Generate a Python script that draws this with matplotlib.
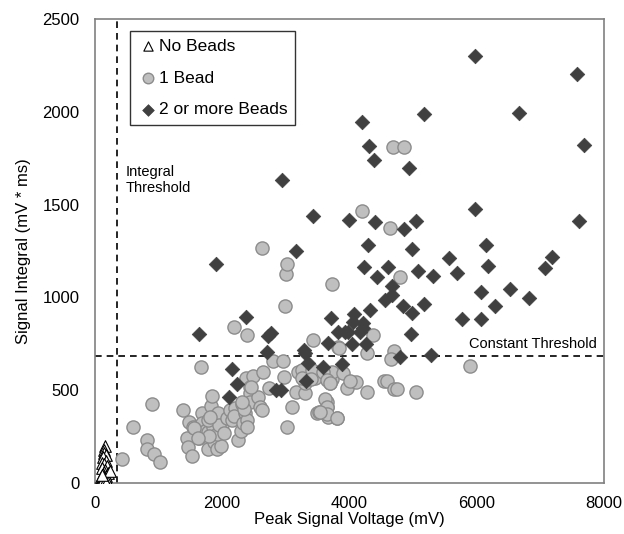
import matplotlib
matplotlib.use('Agg')
import matplotlib.pyplot as plt

plt.rcParams['font.family'] = ['Liberation Sans', 'DejaVu Sans']

# no beads (triangles)
none_x = [160, 150, 140, 170, 130, 180, 120, 150, 190, 110, 160, 140, 200, 130,
          170, 100, 150, 120, 180, 140, 160, 90, 130, 110, 150, 170, 240, 120]
none_y = [200, 180, 160, 150, 140, 120, 110, 100, 90, 80, 70, 60, 55, 50,
          40, 35, 30, 25, 20, 15, 10, 8, 5, 3, 2, 0, 65, 45]

# 1 bead (circles)
one_x = [419, 592, 896, 812, 812, 927, 1022,
         1389, 1478, 1441, 1457, 1530, 1546, 1614, 1677, 1687, 1640, 1724, 1782, 1782,
         1818, 1839, 1860, 1860, 1871, 1913, 1929, 1976, 2002, 1913, 1771, 1800, 1950,
         2070, 2033, 2122, 2149, 2201, 2185, 2253, 2295, 2306, 2321, 2358, 2384, 2369,
         2437, 2437, 2437, 2489, 2567, 2594, 2620, 2646, 2735, 2803, 2950, 2971, 3014,
         3101, 3155, 2987, 3432, 3301, 3196, 3254, 3301, 3458, 3411, 3495, 3521, 3642,
         3647, 3667, 3720, 3720, 3694, 3825, 3800, 3720, 2384, 2185, 1666, 3003, 3014,
         2620, 4370, 3836, 4276, 4700, 4653, 5895, 3899, 3584, 3647, 3694, 3961, 4103,
         4276, 4543, 4590, 4700, 4748, 5046, 3616, 3647, 3647, 3804, 3537, 4008, 4197,
         4637, 4685, 4857, 4795, 1808, 2342, 2311, 2452, 2389, 3254, 3400, 1556, 1619]
one_y = [128, 302, 427, 230, 181, 155, 111,
         393, 327, 241, 196, 147, 303, 291, 376, 322, 244, 280, 181, 276,
         415, 470, 357, 303, 223, 183, 376, 199, 313, 262, 339, 255, 313,
         348, 268, 393, 339, 402, 360, 232, 280, 426, 322, 376, 339, 566,
         519, 483, 438, 578, 465, 411, 393, 600, 510, 659, 659, 569, 303,
         411, 489, 954, 770, 483, 600, 609, 537, 564, 609, 376, 383, 438,
         411, 357, 1071, 560, 537, 735, 348, 600, 797, 842, 627, 1124, 1180,
         1266, 800, 727, 700, 711, 668, 630, 593, 598, 555, 539, 512, 544,
         490, 550, 550, 506, 506, 490, 453, 409, 372, 350, 383, 550, 1465,
         1374, 1810, 1810, 1110, 356, 399, 436, 517, 302, 566, 560, 296, 242]

# 2 or more beads (diamonds)
two_x = [5974, 7577, 4197, 5172, 6665, 7687, 4307, 4386, 4936, 2940, 3427, 3993,
         4402, 4850, 5046, 5974, 7609, 4292, 4983, 6146, 3160, 1900,
         4221, 4606, 4433, 5077, 5313, 5565, 5691, 6178, 7184, 7074, 6530, 6823,
         6280, 6068, 4669, 4669, 4559, 4842, 4983, 5172, 4323, 5769, 6068, 4071,
         3705, 2369, 4056, 4213, 4213, 4166, 3820, 3930, 3977, 4967, 1640, 2719,
         2766, 3663, 4040, 4260, 3290, 3300, 2699, 4795, 5282, 3584, 3883, 3343,
         2149, 2227, 2112, 2845, 2924, 3311]
two_y = [2300, 2204, 1945, 1988, 1993, 1821, 1816, 1740, 1697, 1633, 1439, 1417,
         1406, 1369, 1412, 1476, 1412, 1282, 1258, 1282, 1250, 1180,
         1166, 1164, 1110, 1142, 1115, 1212, 1131, 1169, 1218, 1158, 1045, 997,
         954, 1029, 1061, 1013, 986, 954, 916, 967, 930, 884, 884, 910,
         887, 896, 870, 862, 835, 814, 812, 812, 812, 805, 805, 790,
         810, 754, 749, 749, 716, 700, 708, 679, 692, 627, 641, 646,
         612, 532, 465, 501, 501, 550]

integral_threshold = 346
constant_threshold = 684

fig = plt.figure(figsize=(6.24, 5.34), dpi=100)
ax = fig.add_axes([0.152, 0.0955, 0.816, 0.869])

ax.scatter(none_x, none_y, marker='^', s=70, facecolor='white', edgecolor='black',
           linewidth=0.8, label='No Beads', zorder=3)
ax.scatter(one_x, one_y, marker='o', s=90, facecolor='#bfbfbf', edgecolor='#8c8c8c',
           linewidth=1, label='1 Bead', zorder=3)
ax.scatter(two_x, two_y, marker='D', s=55, facecolor='#404040', edgecolor='#404040',
           linewidth=0.5, label='2 or more Beads', zorder=4)

ax.axvline(integral_threshold, color='black', linestyle=(0, (4, 3)), linewidth=1.2, zorder=2)
ax.axhline(constant_threshold, color='black', linestyle=(0, (4, 3)), linewidth=1.2, zorder=2)

ax.text(490, 1712, 'Integral\nThreshold', fontsize=10.5, ha='left', va='top', linespacing=1.15)
ax.text(7890, 712, 'Constant Threshold', fontsize=10.5, ha='right', va='bottom')

ax.set_xlim(0, 8000)
ax.set_ylim(0, 2500)
ax.set_xticks([0, 2000, 4000, 6000, 8000])
ax.set_yticks([0, 500, 1000, 1500, 2000, 2500])
ax.tick_params(length=0, labelsize=12)
ax.tick_params(axis='x', pad=9)
ax.tick_params(axis='y', pad=11)
for s in ax.spines.values():
    s.set_color('#808080')
    s.set_linewidth(1.2)

ax.set_xlabel('Peak Signal Voltage (mV)', fontsize=12, labelpad=1)
ax.set_ylabel('Signal Integral (mV * ms)', fontsize=12, labelpad=8)

leg = ax.legend(loc='upper left', bbox_to_anchor=(0.069, 0.974), fontsize=12.5,
                frameon=True, fancybox=False, handletextpad=0.0, handlelength=1.2,
                labelspacing=0.95, borderpad=0.45, borderaxespad=0, markerscale=0.8)
leg.get_frame().set_edgecolor('black')
leg.get_frame().set_linewidth(1)

fig.savefig('out.png', dpi=100)
